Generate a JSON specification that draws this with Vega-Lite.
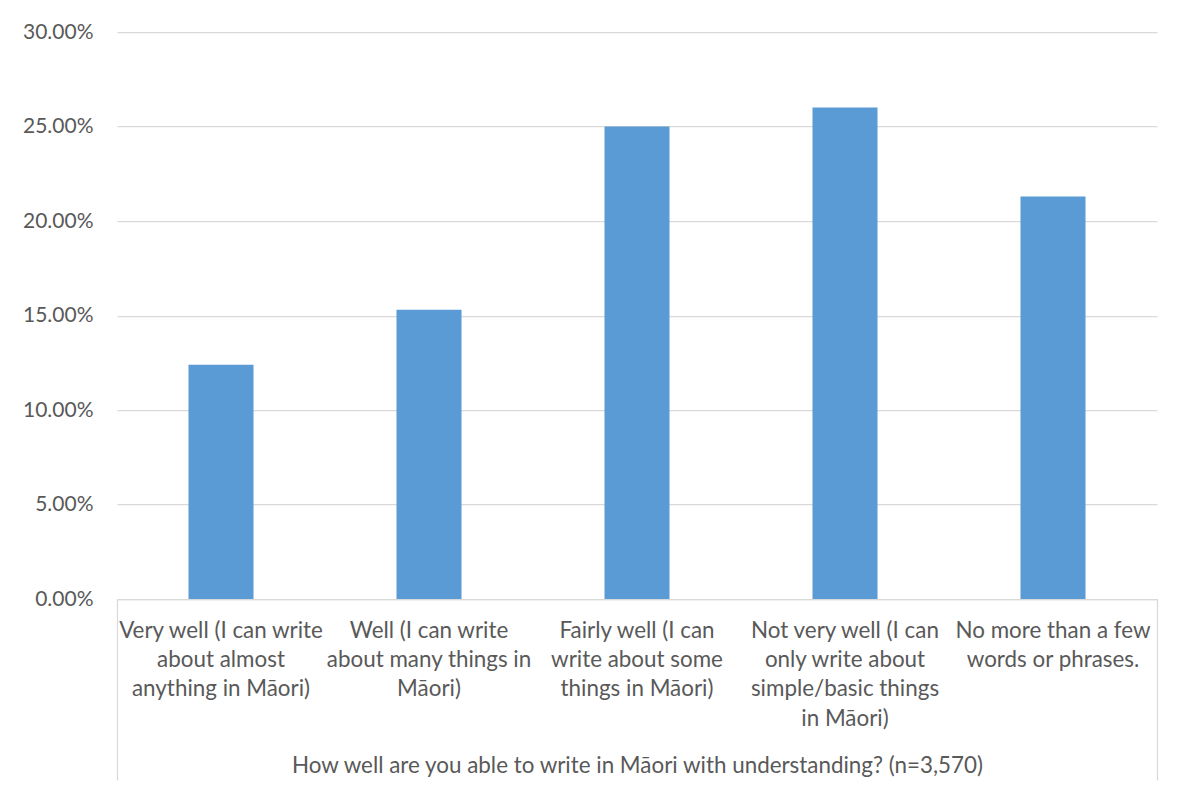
{
  "$schema": "https://vega.github.io/schema/vega-lite/v6.json",
  "width": 1040,
  "height": 567,
  "autosize": {"type": "none"},
  "padding": {"left": 117, "top": 32, "right": 30, "bottom": 194},
  "background": "white",
  "config": {
    "view": {"stroke": null},
    "font": "Lato",
    "axis": {
      "labelFont": "Lato",
      "labelFontSize": 22.4,
      "labelColor": "#595959",
      "title": null
    }
  },
  "data": {
    "values": [
      {"question": "How well are you able to write in Māori with understanding? (n=3,570)", "answer": "Very well (I can write\nabout almost\nanything in Māori)", "share": 0.124},
      {"question": "How well are you able to write in Māori with understanding? (n=3,570)", "answer": "Well (I can write\nabout many things in\nMāori)", "share": 0.153},
      {"question": "How well are you able to write in Māori with understanding? (n=3,570)", "answer": "Fairly well (I can\nwrite about some\nthings in Māori)", "share": 0.250},
      {"question": "How well are you able to write in Māori with understanding? (n=3,570)", "answer": "Not very well (I can\nonly write about\nsimple/basic things\nin Māori)", "share": 0.260},
      {"question": "How well are you able to write in Māori with understanding? (n=3,570)", "answer": "No more than a few\nwords or phrases.", "share": 0.213}
    ]
  },
  "layer": [
    {
      "mark": {"type": "bar", "color": "#5B9BD5", "width": {"band": 0.3125}},
      "encoding": {
        "x": {
          "field": "answer",
          "type": "nominal",
          "sort": null,
          "scale": {"paddingInner": 0, "paddingOuter": 0},
          "axis": {
            "orient": "bottom",
            "labelAngle": 0,
            "labelExpr": "split(datum.label, '\\n')",
            "labelBaseline": "alphabetic",
            "labelPadding": 38,
            "labelLineHeight": 29.4,
            "labelLimit": 0,
            "labelOverlap": false,
            "ticks": false,
            "tickSize": 0,
            "domain": true,
            "domainColor": "#d9d9d9",
            "domainWidth": 1.25,
            "grid": false
          }
        },
        "y": {
          "field": "share",
          "type": "quantitative",
          "scale": {"domain": [0, 0.3], "nice": false},
          "axis": {
            "values": [0, 0.05, 0.1, 0.15, 0.2, 0.25, 0.3],
            "format": ".2%",
            "domain": false,
            "ticks": false,
            "tickSize": 0,
            "labelFontSize": 21,
            "labelPadding": 24,
            "labelBaseline": "middle",
            "grid": true,
            "gridColor": "#d9d9d9",
            "gridWidth": 1.25
          }
        }
      }
    },
    {
      "mark": {"type": "point", "opacity": 0},
      "encoding": {
        "x": {
          "field": "question",
          "type": "nominal",
          "scale": {"paddingInner": 0, "paddingOuter": 0},
          "axis": {
            "orient": "bottom",
            "labelAngle": 0,
            "labelBaseline": "alphabetic",
            "labelPadding": -8,
            "labelLimit": 0,
            "domain": false,
            "grid": false,
            "ticks": true,
            "tickBand": "extent",
            "tickExtra": true,
            "tickSize": 181,
            "tickColor": "#d9d9d9",
            "tickWidth": 1.25
          }
        }
      }
    }
  ],
  "resolve": {"scale": {"x": "independent"}}
}
